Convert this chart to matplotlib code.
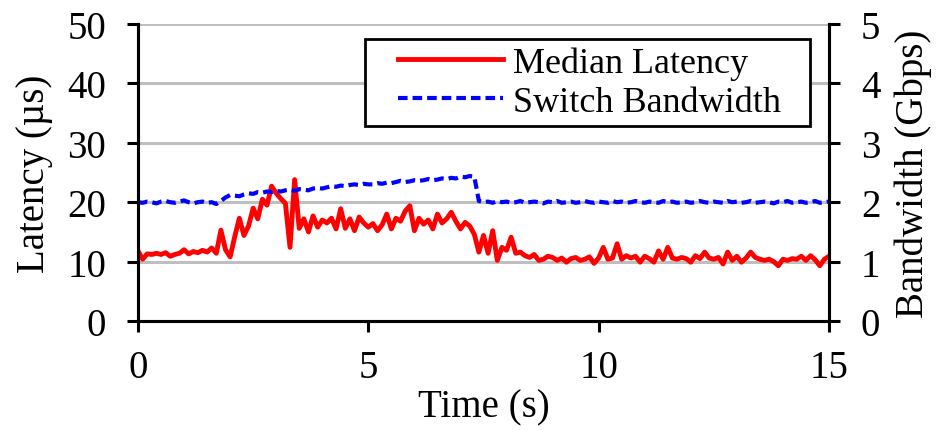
import matplotlib
matplotlib.use("Agg")
import matplotlib.pyplot as plt
from matplotlib.patches import Rectangle

plt.rcParams['font.family'] = ['Liberation Serif', 'DejaVu Serif']

# ---- data ----
time_s = [round(i * 0.1, 1) for i in range(151)]

latency_us = [
    11.8, 10.4, 11.3, 11.2, 11.4, 11.2, 11.5, 10.9, 11.2, 11.4,
    12.0, 11.3, 11.7, 11.5, 11.9, 11.6, 12.3, 11.4, 15.3, 12.0,
    10.8, 14.2, 17.3, 14.4, 16.0, 19.0, 17.2, 20.5, 19.5, 22.7,
    21.5, 20.6, 19.8, 12.4, 23.8, 15.6, 17.2, 15.0, 17.7, 15.8,
    17.0, 16.5, 17.3, 15.5, 18.9, 15.6, 17.2, 15.2, 17.5, 16.5,
    15.8, 16.4, 15.2, 16.2, 18.0, 15.5, 17.3, 16.8, 18.5, 19.4,
    15.2, 17.3, 16.3, 17.0, 15.5, 18.0, 16.5, 17.2, 18.3, 16.8,
    15.5, 16.6, 16.0, 14.6, 11.6, 14.4, 11.4, 15.2, 10.2, 12.4,
    11.9, 14.1, 11.4, 11.6, 11.0, 10.7, 11.2, 10.2, 10.4, 10.9,
    10.7, 10.2, 10.6, 9.9, 10.5, 10.7, 10.2, 10.4, 10.8, 9.7,
    10.6, 12.4, 10.4, 10.6, 13.0, 10.4, 11.0, 10.6, 10.9, 9.9,
    10.9, 10.5, 9.9, 11.8, 10.4, 12.4, 10.6, 10.4, 10.7, 10.5,
    9.9, 11.0, 10.5, 11.6, 10.6, 10.4, 10.7, 9.6, 11.6, 10.2,
    10.9, 9.9, 10.6, 11.6, 10.7, 10.4, 10.2, 10.4, 10.0, 9.3,
    10.4, 10.2, 10.5, 10.4, 10.9, 10.2, 11.0, 10.3, 9.3, 10.4,
    10.9,
]

bandwidth_gbps = [
    2.00, 1.99, 2.01, 2.00, 1.98, 2.01, 2.02, 2.00, 1.99, 2.01,
    2.03, 2.00, 1.98, 2.00, 2.01, 1.99, 2.00, 1.97, 2.02, 2.08,
    2.12, 2.11, 2.10, 2.13, 2.15, 2.14, 2.17, 2.16, 2.18, 2.17,
    2.19, 2.18, 2.20, 2.21, 2.19, 2.22, 2.21, 2.20, 2.23, 2.24,
    2.23, 2.25, 2.27, 2.26, 2.28, 2.27, 2.29, 2.30, 2.29, 2.31,
    2.30, 2.30, 2.32, 2.31, 2.33, 2.32, 2.34, 2.36, 2.34, 2.35,
    2.37, 2.36, 2.37, 2.39, 2.37, 2.38, 2.40, 2.39, 2.41, 2.40,
    2.43, 2.42, 2.44, 2.43, 2.02, 2.00, 2.01, 1.99, 2.02, 2.00,
    2.01, 1.99, 2.00, 2.02, 1.99, 2.00, 2.01, 2.00, 1.98, 2.01,
    2.00, 2.02, 1.99, 2.00, 2.01, 1.99, 2.00, 2.02, 2.00, 1.99,
    2.01, 2.00, 1.99, 2.02, 2.00, 2.01, 1.99, 2.00, 2.02, 2.00,
    1.99, 2.01, 2.00, 1.99, 2.02, 2.00, 2.01, 1.99, 2.00, 2.01,
    1.99, 2.00, 2.02, 2.00, 1.99, 2.01, 2.00, 1.99, 2.02, 2.00,
    2.01, 1.99, 2.00, 2.02, 1.99, 2.00, 2.01, 2.00, 1.98, 2.01,
    2.00, 2.02, 1.99, 2.00, 2.01, 1.99, 2.00, 2.02, 1.99, 2.00,
    2.01,
]

x_ticks = [0, 5, 10, 15]
lat_ticks = [0, 10, 20, 30, 40, 50]
bw_ticks = [0, 1, 2, 3, 4, 5]

FS = 28
LFS = 26

fig = plt.figure(figsize=(9.38, 4.31), dpi=100)
ax = fig.add_axes([138 / 938, 1 - 322 / 431, (829 - 138) / 938, (322 - 25) / 431])
ax2 = ax.twinx()

for y in lat_ticks[1:]:
    ax.axhline(y, color='#bfbfbf', lw=2.2, zorder=0)

l2, = ax2.plot(time_s, bandwidth_gbps, color='#0000ff', lw=3.0, ls=(0, (2.3, 1.2)),
               label='Switch Bandwidth', zorder=2)
l1, = ax.plot(time_s, latency_us, color='#ff0000', lw=3.5, label='Median Latency',
              solid_joinstyle='round', zorder=3)

ax.set_xlim(0, 15)
ax.set_ylim(0, 50)
ax2.set_ylim(0, 5)
ax.set_xticks(x_ticks)
ax.set_yticks(lat_ticks)
ax2.set_yticks(bw_ticks)

for a in (ax, ax2):
    a.spines['top'].set_visible(False)
    for s in ('left', 'right', 'bottom'):
        a.spines[s].set_linewidth(2.2)
        a.spines[s].set_color('black')
    a.tick_params(direction='out', length=8, width=2.2, labelsize=FS)
ax.tick_params(axis='y', pad=15)
ax2.tick_params(axis='y', pad=15)
ax.tick_params(axis='x', pad=12)

ax.set_xlabel('Time (s)', fontsize=FS, labelpad=2)
ax.set_ylabel('Latency (µs)', fontsize=FS, labelpad=10)
ax2.set_ylabel('Bandwidth (Gbps)', fontsize=FS, labelpad=10)

# legend frame and entries
ax.add_patch(Rectangle((0.3285, 0.6566), 0.9725 - 0.3285, 0.9495 - 0.6566,
                       transform=ax.transAxes, fill=True, facecolor='white',
                       edgecolor='black', lw=2.0, zorder=5, clip_on=False))
leg = ax.legend(handles=[l1, l2], loc='center left', bbox_to_anchor=(0.376, 0.803),
                borderaxespad=0, borderpad=0, fontsize=LFS, frameon=False,
                handlelength=2.9, handletextpad=0.3, labelspacing=0.15)
leg.set_zorder(6)

fig.savefig('out.png', dpi=100)
